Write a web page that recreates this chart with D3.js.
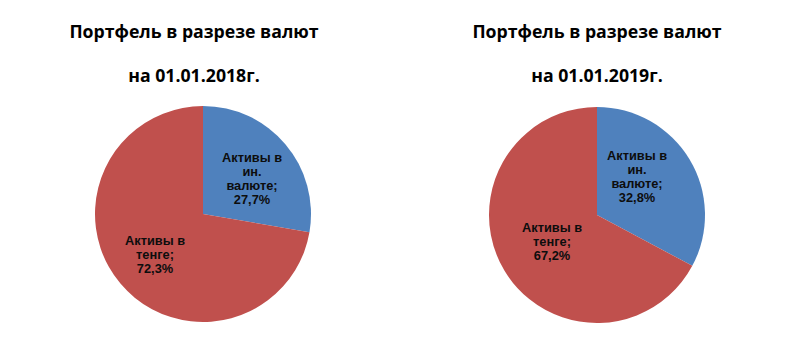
<!DOCTYPE html>
<html><head><meta charset="utf-8">
<script src="https://cdn.jsdelivr.net/npm/d3@7"></script>
<style>body{margin:0;background:#fff}</style>
</head><body>
<svg id="c" width="800" height="357"></svg>
<script>
const categories = ["Активы в ин. валюте", "Активы в тенге"];
const titles = ["на 01.01.2018г.", "на 01.01.2019г."];
const titleMain = "Портфель в разрезе валют";
const values2018 = [27.7, 72.3];
const values2019 = [32.8, 67.2];
const labelLines = [["Активы в", "ин.", "валюте;"], ["Активы в", "тенге;"]];
const colors = ["#4F81BD", "#C0504D"];

const svg = d3.select("#c");
const charts = [
  {values: values2018, title: titles[0], cx: 203, cy: 214, tx: 194, blueL: [252, 157], redL: [155, 240]},
  {values: values2019, title: titles[1], cx: 597, cy: 215, tx: 597, blueL: [637, 155], redL: [552, 227]}
];
const R = 108;
const fmt = v => d3.format(".1f")(v).replace(".", ",") + "%";

charts.forEach(c => {
  const g = svg.append("g");
  g.append("text").attr("x", c.tx).attr("y", 38).attr("text-anchor", "middle")
    .attr("font-family", "Open Sans").attr("font-weight", "bold").attr("font-size", 17.7)
    .attr("fill", "#000").text(titleMain);
  g.append("text").attr("x", c.tx).attr("y", 82).attr("text-anchor", "middle")
    .attr("font-family", "Open Sans").attr("font-weight", "bold").attr("font-size", 17.7)
    .attr("fill", "#000").text(c.title);
  const pie = d3.pie().sort(null).value(d => d);
  const arc = d3.arc().innerRadius(0).outerRadius(R);
  const pg = g.append("g").attr("transform", `translate(${c.cx},${c.cy})`);
  pg.selectAll("path").data(pie(c.values)).join("path")
    .attr("d", arc).attr("fill", (d, i) => colors[i]);
  [c.blueL, c.redL].forEach((pos, i) => {
    const lines = labelLines[i].concat([fmt(c.values[i])]);
    const t = g.append("text").attr("text-anchor", "middle")
      .attr("font-family", "Liberation Sans, Arial").attr("font-weight", "bold")
      .attr("font-size", 12.8).attr("fill", "#0d0d0d");
    lines.forEach((l, k) => t.append("tspan").attr("x", pos[0]).attr("y", pos[1] + 4.5 + k * 14.3).text(l));
  });
});
</script>
</body></html>
